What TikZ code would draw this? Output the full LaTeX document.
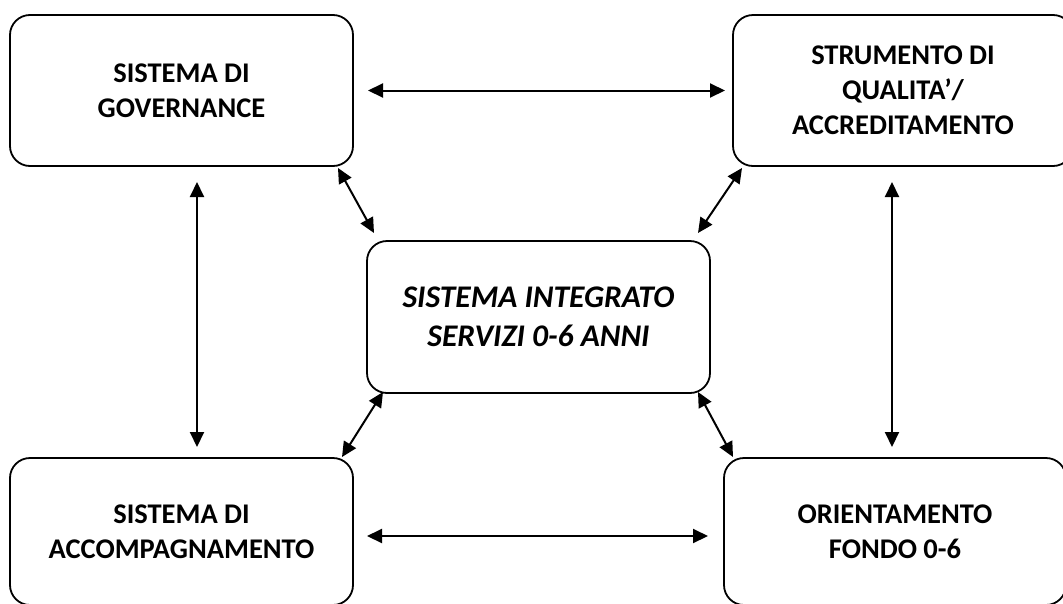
\documentclass[tikz,border=0pt]{standalone}
\usepackage{fontspec}
\setmainfont{Carlito}
\usetikzlibrary{arrows.meta,calc}
\begin{document}
\begin{tikzpicture}[x=1pt,y=-1pt,
  box/.style={draw=black,line width=1.8pt,rounded corners=20pt,outer sep=0pt,inner sep=0pt,
    align=center,font=\fontsize{28.5}{35}\selectfont\bfseries},
  arr/.style={line width=2pt,{Triangle[length=15pt,width=14pt]}-{Triangle[length=15pt,width=14pt]}}]
\useasboundingbox (0,0) rectangle (1063,603);
\clip (0,0) rectangle (1063,603);
\node[box,minimum width=343pt,minimum height=151pt] (gov) at (181.5,90.5) {SISTEMA DI\\GOVERNANCE};
\node[box,minimum width=340pt,minimum height=151pt] (qual) at (903,90.5) {STRUMENTO DI\\QUALITA’/\\ACCREDITAMENTO};
\node[box,minimum width=343pt,minimum height=152pt,font=\fontsize{31.5}{39}\selectfont\bfseries\itshape] (sis) at (538.5,317) {SISTEMA INTEGRATO\\SERVIZI 0-6 ANNI};
\node[box,minimum width=343pt,minimum height=147pt] (acc) at (181.5,531.5) {SISTEMA DI\\ACCOMPAGNAMENTO};
\node[box,minimum width=342pt,minimum height=147pt] (fondo) at (895,531.5) {ORIENTAMENTO\\FONDO 0-6};
% horizontal
\draw[arr] ([shift={(15,0)}]gov.east) -- ([shift={(-8,0)}]qual.west);
\draw[arr] ([shift={(14,4.5)}]acc.east) -- ([shift={(-16,4.5)}]fondo.west);
% vertical
\draw[arr] ([shift={(15.5,16)}]gov.south) -- ([shift={(15.5,-11)}]acc.north);
\draw[arr] ([shift={(-11,16)}]qual.south) -- ([shift={(-3,-11)}]fondo.north);
% diagonals
\draw[arr] ([shift={(-15,2)}]gov.south east) -- ([shift={(7,-8)}]sis.north west);
\draw[arr] ([shift={(9,2)}]qual.south west) -- ([shift={(-12,-8)}]sis.north east);
\draw[arr] ([shift={(16,-1)}]sis.south west) -- ([shift={(-11,-1)}]acc.north east);
\draw[arr] ([shift={(-12,-1)}]sis.south east) -- ([shift={(9,-1)}]fondo.north west);
\end{tikzpicture}
\end{document}
